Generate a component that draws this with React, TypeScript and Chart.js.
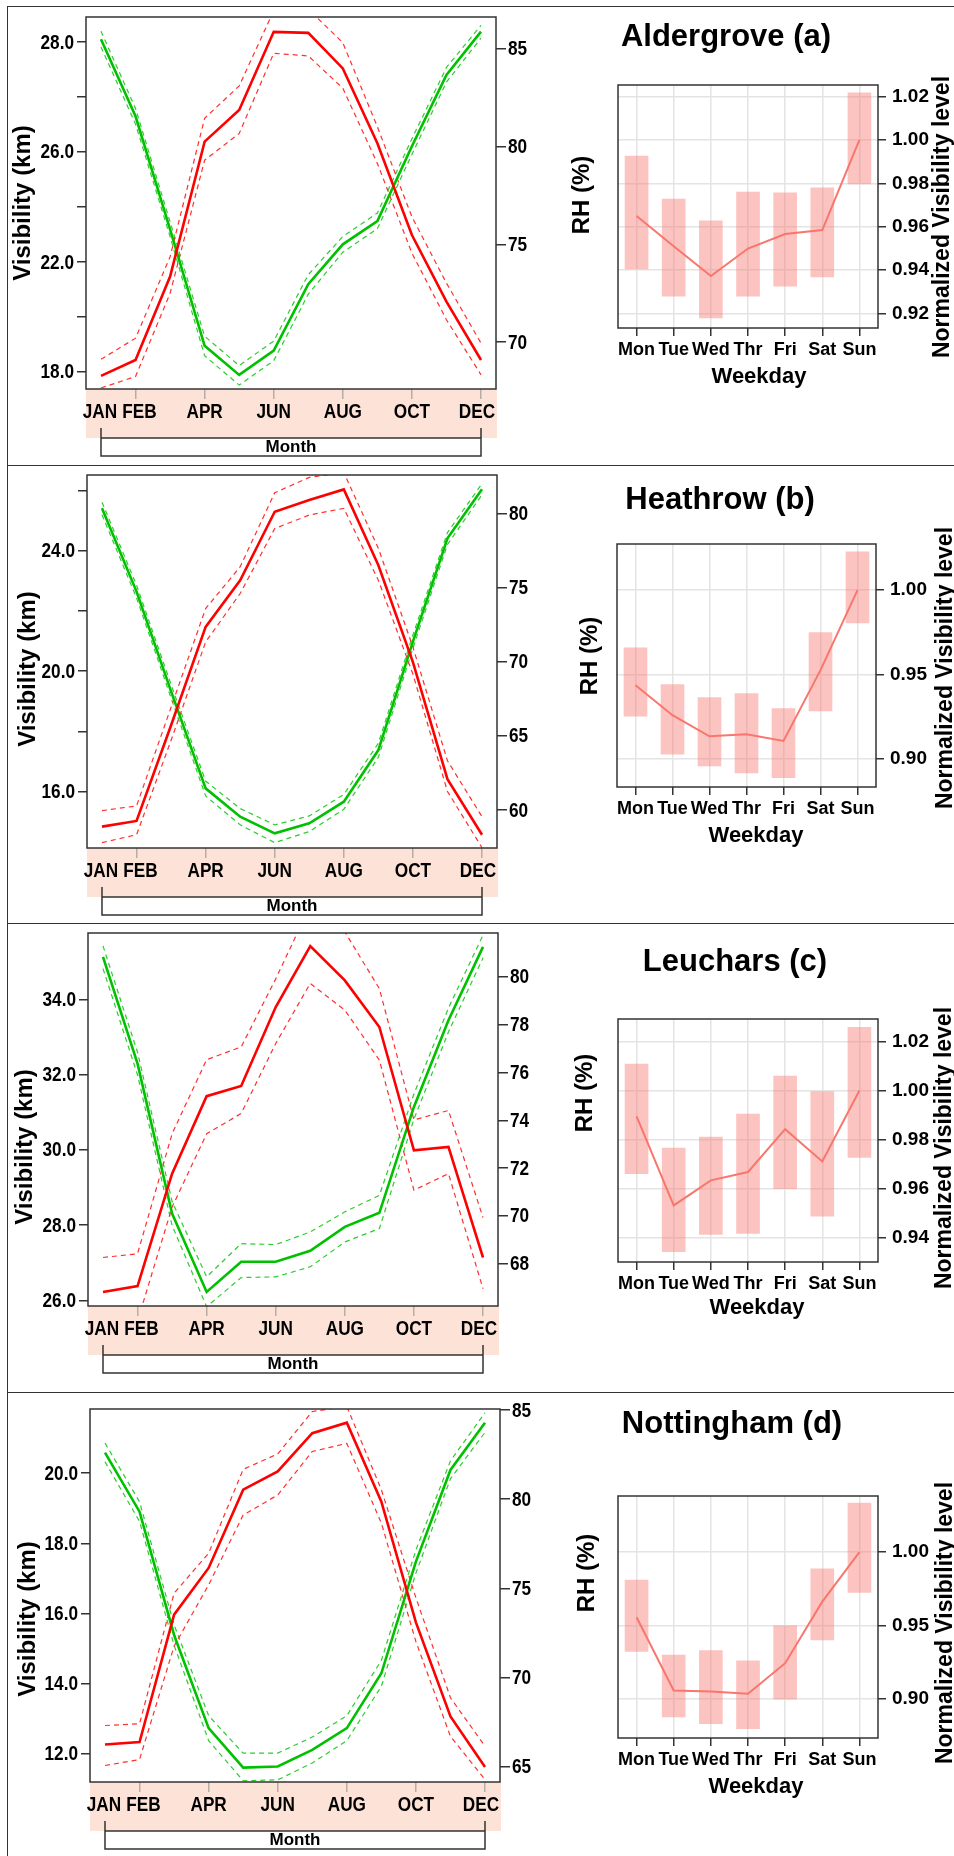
import React, { useEffect, useRef } from 'react';
import { Chart, registerables } from 'chart.js';

Chart.register(...registerables);

const FONT = "'Liberation Sans', Arial, Helvetica, sans-serif";
Chart.defaults.font.family = FONT;
Chart.defaults.font.weight = 'bold';
Chart.defaults.color = '#000';

// ---------- categories ----------
const MONTH_NAMES = ['JAN', 'FEB', 'MAR', 'APR', 'MAY', 'JUN', 'JUL', 'AUG', 'SEP', 'OCT', 'NOV', 'DEC'];
const MONTH_NUMS = [1, 2, 3, 4, 5, 6, 7, 8, 9, 10, 11, 12];
const MONTH_TICKS = [1, 2, 4, 6, 8, 10, 12];
const WEEKDAYS = ['Mon', 'Tue', 'Wed', 'Thr', 'Fri', 'Sat', 'Sun'];
const STATIONS = ['Aldergrove (a)', 'Heathrow (b)', 'Leuchars (c)', 'Nottingham (d)'];

// ---------- (a) Aldergrove ----------
const VIS_A = [17.88, 18.36, 20.89, 24.98, 25.94, 28.31, 28.28, 27.2, 24.93, 22.15, 20.13, 18.36];
const VIS_A_HI = [18.38, 19.02, 21.49, 25.69, 26.67, 28.95, 29.0, 27.98, 25.43, 22.7, 20.69, 18.87];
const VIS_A_LO = [17.51, 17.86, 20.38, 24.42, 25.23, 27.66, 27.58, 26.6, 24.32, 21.6, 19.58, 17.91];
const RH_A = [85.49, 81.55, 75.77, 69.81, 68.32, 69.56, 72.96, 75.0, 76.19, 80.02, 83.67, 85.88];
const RH_A_HI = [85.9, 81.95, 76.15, 70.3, 68.8, 70.05, 73.45, 75.4, 76.6, 80.4, 84.05, 86.2];
const RH_A_LO = [85.1, 81.15, 75.4, 69.3, 67.8, 69.05, 72.45, 74.6, 75.8, 79.6, 83.3, 85.55];
const VIS_TICKS_A = [18, 19.67, 21.33, 23, 24.67, 26.33, 28];
const VIS_LABELS_A = ['18.0', '', '22.0', '', '26.0', '', '28.0'];
const RH_TICKS_A = [70, 75, 80, 85];
const WD_A = [0.965, 0.951, 0.9373, 0.95, 0.9567, 0.9585, 1.0];
const WD_A_HI = [0.9926, 0.9728, 0.9627, 0.976, 0.9756, 0.9779, 1.0217];
const WD_A_LO = [0.9406, 0.928, 0.918, 0.928, 0.9327, 0.9369, 0.9797];
const WD_TICKS_A = [0.92, 0.94, 0.96, 0.98, 1.0, 1.02];

// ---------- (b) Heathrow ----------
const VIS_B = [14.83, 15.02, 18.2, 21.47, 23.02, 25.3, 25.69, 26.04, 23.52, 20.3, 16.41, 14.56];
const VIS_B_HI = [15.36, 15.52, 18.8, 22.08, 23.47, 25.93, 26.44, 26.6, 24.08, 20.8, 17.02, 15.16];
const VIS_B_LO = [14.3, 14.56, 17.7, 20.97, 22.58, 24.74, 25.19, 25.41, 23.02, 19.9, 16.0, 14.13];
const RH_B = [80.34, 74.72, 68.0, 61.46, 59.55, 58.43, 59.1, 60.56, 64.04, 71.35, 78.31, 81.62];
const RH_B_HI = [80.75, 75.15, 68.45, 61.95, 60.1, 59.0, 59.6, 61.05, 64.5, 71.8, 78.7, 82.0];
const RH_B_LO = [79.9, 74.3, 67.55, 60.95, 59.0, 57.8, 58.55, 60.05, 63.55, 70.9, 77.9, 81.25];
const VIS_TICKS_B = [16, 18, 20, 22, 24, 26];
const VIS_LABELS_B = ['16.0', '', '20.0', '', '24.0', ''];
const RH_TICKS_B = [60, 65, 70, 75, 80];
const WD_B = [0.9437, 0.9259, 0.9134, 0.9146, 0.9107, 0.9526, 1.0];
const WD_B_HI = [0.9658, 0.9441, 0.9364, 0.9387, 0.9298, 0.9749, 1.0227];
const WD_B_LO = [0.9253, 0.9028, 0.8959, 0.8917, 0.8889, 0.9285, 0.9806];
const WD_TICKS_B = [0.9, 0.95, 1.0];

// ---------- (c) Leuchars ----------
const VIS_C = [26.22, 26.38, 29.37, 31.43, 31.7, 33.8, 35.42, 34.51, 33.27, 29.99, 30.08, 27.14];
const VIS_C_HI = [27.14, 27.24, 30.43, 32.4, 32.74, 34.55, 36.5, 35.8, 34.29, 30.8, 31.05, 28.2];
const VIS_C_LO = [25.3, 25.45, 28.48, 30.43, 30.97, 32.83, 34.43, 33.72, 32.39, 28.93, 29.37, 26.31];
const RH_C = [80.84, 76.37, 70.1, 66.82, 68.08, 68.08, 68.54, 69.54, 70.13, 74.56, 78.19, 81.26];
const RH_C_HI = [81.3, 76.85, 70.6, 67.45, 68.84, 68.8, 69.33, 70.17, 70.86, 75.1, 78.7, 81.75];
const RH_C_LO = [80.35, 75.9, 69.6, 66.2, 67.42, 67.45, 67.87, 68.91, 69.47, 74.05, 77.7, 80.8];
const VIS_TICKS_C = [26, 28, 30, 32, 34];
const VIS_LABELS_C = ['26.0', '28.0', '30.0', '32.0', '34.0'];
const RH_TICKS_C = [68, 70, 72, 74, 76, 78, 80];
const WD_C = [0.9895, 0.9533, 0.9635, 0.9669, 0.9843, 0.9712, 1.0];
const WD_C_HI = [1.0108, 0.9766, 0.9811, 0.9904, 1.0059, 0.9996, 1.0257];
const WD_C_LO = [0.9662, 0.9345, 0.9415, 0.9419, 0.9601, 0.9489, 0.9728];
const WD_TICKS_C = [0.94, 0.96, 0.98, 1.0, 1.02];

// ---------- (d) Nottingham ----------
const VIS_D = [12.27, 12.34, 15.97, 17.3, 19.53, 20.05, 21.14, 21.44, 19.19, 15.75, 13.07, 11.63];
const VIS_D_HI = [12.81, 12.86, 16.58, 17.72, 20.11, 20.55, 21.76, 21.9, 19.53, 16.45, 13.6, 12.22];
const VIS_D_LO = [11.67, 11.84, 15.07, 16.82, 18.81, 19.38, 20.62, 20.85, 18.58, 15.2, 12.5, 11.27];
const RH_D = [82.61, 79.3, 72.38, 67.15, 64.94, 65.0, 65.93, 67.15, 70.23, 76.5, 81.64, 84.29];
const RH_D_HI = [83.15, 79.85, 72.95, 67.85, 65.75, 65.75, 66.65, 67.85, 70.95, 77.15, 82.15, 84.85];
const RH_D_LO = [82.1, 78.75, 71.8, 66.45, 64.2, 64.25, 65.2, 66.45, 69.5, 75.85, 81.15, 83.75];
const VIS_TICKS_D = [12, 14, 16, 18, 20];
const VIS_LABELS_D = ['12.0', '14.0', '16.0', '18.0', '20.0'];
const RH_TICKS_D = [65, 70, 75, 80, 85];
const WD_D = [0.9557, 0.9059, 0.9052, 0.9036, 0.9244, 0.9663, 1.0];
const WD_D_HI = [0.981, 0.9299, 0.933, 0.926, 0.9498, 0.9887, 1.0333];
const WD_D_LO = [0.9324, 0.8878, 0.8833, 0.8799, 0.9, 0.9403, 0.9726];
const WD_TICKS_D = [0.9, 0.95, 1.0];

// ---------- layout (page pixels) ----------
const PANELS: any[] = [
  {
    station: STATIONS[0],
    vis: VIS_A, visHi: VIS_A_HI, visLo: VIS_A_LO, rh: RH_A, rhHi: RH_A_HI, rhLo: RH_A_LO,
    visTicks: VIS_TICKS_A, visLabels: VIS_LABELS_A, visMin: 17.48, visMax: 28.76,
    rhTicks: RH_TICKS_A, rhMin: 67.6, rhMax: 86.63,
    wd: WD_A, wdHi: WD_A_HI, wdLo: WD_A_LO, wdTicks: WD_TICKS_A, wdMin: 0.9134, wdMax: 1.0253,
    left: { L: 86, T: 17, R: 496, B: 389 }, right: { L: 618, T: 85, R: 878, B: 328 },
    visTitle: [23, 203], rhTitle: [582, 195], title: [726, 37], wdTitle: [759, 377], normTitle: [943, 217],
  },
  {
    station: STATIONS[1],
    vis: VIS_B, visHi: VIS_B_HI, visLo: VIS_B_LO, rh: RH_B, rhHi: RH_B_HI, rhLo: RH_B_LO,
    visTicks: VIS_TICKS_B, visLabels: VIS_LABELS_B, visMin: 14.12, visMax: 26.52,
    rhTicks: RH_TICKS_B, rhMin: 57.44, rhMax: 82.58,
    wd: WD_B, wdHi: WD_B_HI, wdLo: WD_B_LO, wdTicks: WD_TICKS_B, wdMin: 0.8834, wdMax: 1.0273,
    left: { L: 87, T: 475, R: 497, B: 848 }, right: { L: 617, T: 544, R: 876, B: 787 },
    visTitle: [28, 669], rhTitle: [590, 656], title: [720, 500], wdTitle: [756, 836], normTitle: [946, 668],
  },
  {
    station: STATIONS[2],
    vis: VIS_C, visHi: VIS_C_HI, visLo: VIS_C_LO, rh: RH_C, rhHi: RH_C_HI, rhLo: RH_C_LO,
    visTicks: VIS_TICKS_C, visLabels: VIS_LABELS_C, visMin: 25.85, visMax: 35.77,
    rhTicks: RH_TICKS_C, rhMin: 66.23, rhMax: 81.84,
    wd: WD_C, wdHi: WD_C_HI, wdLo: WD_C_LO, wdTicks: WD_TICKS_C, wdMin: 0.9303, wdMax: 1.0291,
    left: { L: 88, T: 933, R: 498, B: 1306 }, right: { L: 618, T: 1019, R: 878, B: 1262 },
    visTitle: [25, 1147], rhTitle: [585, 1093], title: [735, 962], wdTitle: [757, 1308], normTitle: [945, 1148],
  },
  {
    station: STATIONS[3],
    vis: VIS_D, visHi: VIS_D_HI, visLo: VIS_D_LO, rh: RH_D, rhHi: RH_D_HI, rhLo: RH_D_LO,
    visTicks: VIS_TICKS_D, visLabels: VIS_LABELS_D, visMin: 11.2, visMax: 21.83,
    rhTicks: RH_TICKS_D, rhMin: 64.13, rhMax: 85.06,
    wd: WD_D, wdHi: WD_D_HI, wdLo: WD_D_LO, wdTicks: WD_TICKS_D, wdMin: 0.8735, wdMax: 1.0382,
    left: { L: 90, T: 1409, R: 500, B: 1782 }, right: { L: 618, T: 1496, R: 878, B: 1738 },
    visTitle: [28, 1619], rhTitle: [587, 1573], title: [732, 1424], wdTitle: [756, 1787], normTitle: [946, 1623],
  },
];

const LEFT_W = 610;
const RIGHT_X = 606;
const PAGE_W = 954;
const RIGHT_TOP_PAD = 110;
const BAND = '#FDE3D7';
const FRAME = '#333';
const RED = '#FF0000';
const RED_D = '#FF3030';
const GREEN = '#00C000';
const GREEN_D = '#2ECC2E';
const PINK = '#F8766D';
const PINK_BOX = 'rgba(248,118,109,0.43)';
const GRID = '#e4e4e4';
// small horizontal nudges of month labels (label index -> px), as in the original
const MONTH_NUDGE: Record<number, number> = { 1: -1, 2: 4, 12: -4 };
const COND = 0.86; // horizontal condensation of the left-panel tick labels
const TICK_SIZE = 20;

function vText(ctx: any, text: string, x: number, y: number, size: number) {
  ctx.save();
  ctx.translate(x, y);
  ctx.rotate(-Math.PI / 2);
  ctx.font = `bold ${size}px ${FONT}`;
  ctx.textAlign = 'center';
  ctx.textBaseline = 'middle';
  ctx.fillStyle = '#000';
  ctx.fillText(text, 0, 0);
  ctx.restore();
}

function hText(ctx: any, text: string, x: number, y: number, size: number, align = 'center', sx = 1) {
  ctx.save();
  ctx.translate(x, y);
  ctx.scale(sx, 1);
  ctx.font = `bold ${size}px ${FONT}`;
  ctx.textAlign = align;
  ctx.textBaseline = 'middle';
  ctx.fillStyle = '#000';
  ctx.fillText(text, 0, 0);
  ctx.restore();
}

function LeftChart({ p }: any) {
  const ref = useRef<HTMLCanvasElement>(null);
  const { L, T, R, B } = p.left;
  const top = T - 20;
  const H = B - T + 92;
  useEffect(() => {
    const pts = (arr: number[]) => MONTH_NUMS.map((m, i) => ({ x: m, y: arr[i] }));
    const line = (arr: number[], color: string, axis: string, dashed: boolean) => ({
      type: 'line',
      data: pts(arr),
      borderColor: color,
      borderWidth: dashed ? 1.2 : 2.6,
      borderDash: dashed ? [5, 4] : [],
      pointRadius: 0,
      tension: 0,
      fill: false,
      yAxisID: axis,
      xAxisID: 'x',
    });
    const decor = {
      id: 'leftDecor',
      beforeDraw(chart: any) {
        const { ctx, chartArea: a } = chart;
        ctx.save();
        ctx.fillStyle = BAND;
        ctx.fillRect(a.left, a.bottom, a.right - a.left + 1, 49);
        ctx.restore();
      },
      afterDraw(chart: any) {
        const { ctx, chartArea: a, scales } = chart;
        const xs = scales.x;
        const x1 = xs.getPixelForValue(1);
        const x2 = xs.getPixelForValue(12);
        ctx.save();
        ctx.strokeStyle = FRAME;
        ctx.lineWidth = 1.5;
        ctx.strokeRect(a.left, a.top, a.right - a.left, a.bottom - a.top);
        ctx.beginPath();
        ctx.moveTo(x1, a.bottom + 39);
        ctx.lineTo(x1, a.bottom + 67);
        ctx.lineTo(x2, a.bottom + 67);
        ctx.lineTo(x2, a.bottom + 39);
        ctx.moveTo(x1, a.bottom + 49);
        ctx.lineTo(x2, a.bottom + 49);
        ctx.stroke();
        ctx.restore();
        // tick labels (condensed bold, like the original)
        xs.ticks.forEach((t: any) => {
          const v = Math.round(t.value);
          hText(ctx, MONTH_NAMES[v - 1], xs.getPixelForValue(v) + (MONTH_NUDGE[v] || 0), a.bottom + 23, TICK_SIZE, 'center', COND);
        });
        const yl = scales.yL;
        yl.ticks.forEach((t: any, i: number) => {
          const s = p.visLabels[i];
          if (s) hText(ctx, s, a.left - 12, yl.getPixelForValue(t.value) + 1, TICK_SIZE, 'right', COND);
        });
        const yr = scales.yR;
        yr.ticks.forEach((t: any) => {
          hText(ctx, String(t.value), a.right + 12, yr.getPixelForValue(t.value) + 1, TICK_SIZE, 'left', COND);
        });
        hText(ctx, 'Month', (x1 + x2) / 2, a.bottom + 58, 17);
        vText(ctx, 'Visibility (km)', p.visTitle[0], p.visTitle[1] - top, 24);
        vText(ctx, 'RH (%)', p.rhTitle[0], p.rhTitle[1] - top, 24);
      },
    };
    const chart = new Chart(ref.current as any, {
      type: 'line',
      data: {
        datasets: [
          line(p.vis, RED, 'yL', false),
          line(p.rh, GREEN, 'yR', false),
          line(p.visHi, RED_D, 'yL', true),
          line(p.visLo, RED_D, 'yL', true),
          line(p.rhHi, GREEN_D, 'yR', true),
          line(p.rhLo, GREEN_D, 'yR', true),
        ] as any,
      },
      options: {
        responsive: false,
        animation: false,
        events: [],
        layout: { padding: { top: 20, bottom: 2, left: 0, right: 0 }, autoPadding: false } as any,
        plugins: { legend: { display: false }, tooltip: { enabled: false }, title: { display: false } },
        scales: {
          x: {
            type: 'linear',
            position: 'bottom',
            min: 0.566,
            max: 12.434,
            afterBuildTicks: (s: any) => { s.ticks = MONTH_TICKS.map((v) => ({ value: v })); },
            afterFit: (s: any) => { s.height = 70; },
            ticks: { display: false, autoSkip: false },
            grid: {
              drawOnChartArea: false,
              drawTicks: true,
              tickLength: 10,
              lineWidth: 1.5,
              color: (c: any) => (c.tick && c.tick.value === 1 ? 'rgba(0,0,0,0)' : '#b9aca6'),
            },
            border: { display: false },
          },
          yL: {
            type: 'linear',
            position: 'left',
            min: p.visMin,
            max: p.visMax,
            afterBuildTicks: (s: any) => { s.ticks = p.visTicks.map((v: number) => ({ value: v })); },
            afterFit: (s: any) => { s.width = L; },
            ticks: { display: false, autoSkip: false },
            grid: { drawOnChartArea: false, drawTicks: true, tickLength: 9, color: FRAME, lineWidth: 1.5 },
            border: { display: false },
          },
          yR: {
            type: 'linear',
            position: 'right',
            min: p.rhMin,
            max: p.rhMax,
            afterBuildTicks: (s: any) => { s.ticks = p.rhTicks.map((v: number) => ({ value: v })); },
            afterFit: (s: any) => { s.width = LEFT_W - R; },
            ticks: { display: false, autoSkip: false },
            grid: { drawOnChartArea: false, drawTicks: true, tickLength: 10, color: FRAME, lineWidth: 1.5 },
            border: { display: false },
          },
        } as any,
      },
      plugins: [decor],
    } as any);
    return () => chart.destroy();
  }, []);
  return (
    <canvas
      ref={ref}
      width={LEFT_W}
      height={H}
      style={{ position: 'absolute', left: 0, top, width: LEFT_W, height: H }}
    />
  );
}

function RightChart({ p }: any) {
  const ref = useRef<HTMLCanvasElement>(null);
  const { L, T, R, B } = p.right;
  const top = T - RIGHT_TOP_PAD;
  const W = PAGE_W - RIGHT_X;
  const H = B - T + RIGHT_TOP_PAD + 70;
  useEffect(() => {
    const decor = {
      id: 'rightDecor',
      afterDraw(chart: any) {
        const { ctx, chartArea: a } = chart;
        ctx.save();
        ctx.strokeStyle = FRAME;
        ctx.lineWidth = 1.5;
        ctx.strokeRect(a.left, a.top, a.right - a.left, a.bottom - a.top);
        ctx.restore();
        hText(ctx, p.station, p.title[0] - RIGHT_X, p.title[1] - top, 31);
        hText(ctx, 'Weekday', p.wdTitle[0] - RIGHT_X, p.wdTitle[1] - top, 22);
        vText(ctx, 'Normalized Visibility level', p.normTitle[0] - RIGHT_X, p.normTitle[1] - top, 23);
      },
    };
    const chart = new Chart(ref.current as any, {
      type: 'bar',
      data: {
        labels: WEEKDAYS,
        datasets: [
          {
            type: 'line',
            data: p.wd,
            borderColor: PINK,
            borderWidth: 2,
            pointRadius: 0,
            tension: 0,
            fill: false,
            order: 0,
          },
          {
            type: 'bar',
            data: p.wdLo.map((lo: number, i: number) => [lo, p.wdHi[i]]),
            backgroundColor: PINK_BOX,
            borderWidth: 0,
            barThickness: 23,
            order: 1,
          },
        ] as any,
      },
      options: {
        responsive: false,
        animation: false,
        events: [],
        layout: { padding: { top: RIGHT_TOP_PAD, bottom: 5, left: L - RIGHT_X, right: 0 }, autoPadding: false } as any,
        plugins: { legend: { display: false }, tooltip: { enabled: false }, title: { display: false } },
        scales: {
          x: {
            type: 'category',
            offset: true,
            afterFit: (s: any) => { s.height = 65; },
            ticks: { font: { size: 18, weight: 'bold' }, color: '#000', padding: 3, autoSkip: false, maxRotation: 0, minRotation: 0 },
            grid: { offset: false, color: GRID, lineWidth: 1.5, tickColor: FRAME, tickLength: 8, drawTicks: true },
            border: { display: false },
          },
          y: {
            type: 'linear',
            position: 'right',
            min: p.wdMin,
            max: p.wdMax,
            afterBuildTicks: (s: any) => { s.ticks = p.wdTicks.map((v: number) => ({ value: v })); },
            afterFit: (s: any) => { s.width = PAGE_W - R; },
            ticks: {
              callback: (v: any) => Number(v).toFixed(2),
              font: { size: 19, weight: 'bold' },
              color: '#000',
              padding: 6,
              autoSkip: false,
            },
            grid: { color: GRID, lineWidth: 1.5, tickColor: FRAME, tickLength: 8, drawTicks: true },
            border: { display: false },
          },
        } as any,
      },
      plugins: [decor],
    } as any);
    return () => chart.destroy();
  }, []);
  return (
    <canvas
      ref={ref}
      width={W}
      height={H}
      style={{ position: 'absolute', left: RIGHT_X, top, width: W, height: H }}
    />
  );
}

const H_LINES = [6, 465, 923, 1392];

export default function App() {
  return (
    <div
      style={{
        position: 'absolute',
        left: 0,
        top: 0,
        width: 954,
        height: 1856,
        overflow: 'hidden',
        background: '#fff',
      }}
    >
      {H_LINES.map((y) => (
        <div key={y} style={{ position: 'absolute', left: 7, top: y, width: 947, height: 1, background: '#333' }} />
      ))}
      <div style={{ position: 'absolute', left: 7, top: 6, width: 1, height: 1850, background: '#333' }} />
      {PANELS.map((p, i) => (
        <React.Fragment key={i}>
          <LeftChart p={p} />
          <RightChart p={p} />
        </React.Fragment>
      ))}
    </div>
  );
}
